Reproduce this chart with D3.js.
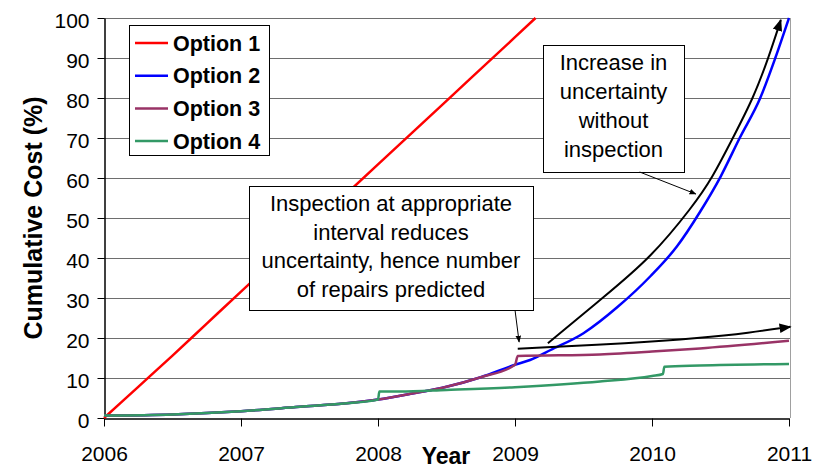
<!DOCTYPE html>
<meta charset="utf-8">
<style>
body { margin: 0; background: #fff; }
text { font-family: Arial, "Liberation Sans", sans-serif; fill: #000; }
.grid line { stroke: #6e6e6e; stroke-width: 1; }
.axis path, .axis line { stroke: #000; }
.axis text { font-size: 21px; }
</style>
<svg width="821" height="469"></svg>
<script src="https://d3js.org/d3.v7.min.js"></script>
<script>

// series values, as [year, cumulative cost %]
var seriesNames = ["Option 1", "Option 2", "Option 3", "Option 4"];
var seriesColors = ["#ff0000", "#0000ff", "#993366", "#339966"];

var option1 = [[2006, 0], [2006.25, 7.8], [2006.5, 15.6], [2006.75, 23.6], [2007, 31.6],
  [2007.5, 47.5], [2008, 63.4], [2008.5, 79.3], [2009, 95.2], [2009.15, 100]];

var sharedStart = [[2006, 0.6], [2006.5, 0.9], [2007, 1.7], [2007.43, 2.8], [2007.75, 3.6], [2008, 4.6]];

var option3Mid = [[2008.25, 6.1], [2008.5, 7.8], [2008.75, 10.2], [2009, 13.3]];

var option2 = sharedStart.concat(option3Mid, [[2009.11, 14.5], [2009.26, 17], [2009.5, 21.2],
  [2009.75, 27.8], [2009.99, 35.5], [2010.18, 42.8], [2010.35, 51.5], [2010.5, 60.3],
  [2010.64, 70], [2010.79, 80], [2010.9, 90], [2011, 100]]);

var option3 = sharedStart.concat(option3Mid, [[2009.02, 15.5], [2009.62, 15.9], [2010, 16.6],
  [2010.35, 17.4], [2011, 19.3]]);

var option4 = sharedStart.concat([[2008.01, 6.6], [2008.16, 6.6], [2008.5, 7.0], [2009, 7.7],
  [2009.62, 9.1], [2010, 10.5], [2010.08, 11.0], [2010.09, 12.8], [2010.35, 13.1], [2011, 13.5]]);

var allSeries = [option1, option2, option3, option4];

var yearTicks = [2006, 2007, 2008, 2009, 2010, 2011];
var costTicks = [0, 10, 20, 30, 40, 50, 60, 70, 80, 90, 100];

// annotation curves and pointers, in data units
var trendNoInspection = [[2009.24, 18.7], [2009.65, 30.3], [2009.99, 40], [2010.3, 53],
  [2010.44, 60], [2010.59, 70], [2010.74, 80], [2010.85, 90], [2010.94, 99.5]];
var trendInspection = [[2009.02, 17.3], [2009.86, 18.7], [2010.35, 20], [2010.71, 21.3], [2011.01, 22.8]];
var pointerA = [[2009.0, 27], [2009.03, 19]];
var pointerB = [[2009.91, 61.5], [2010.32, 56]];

var noteA = ["Inspection at appropriate", "interval reduces", "uncertainty, hence number", "of repairs predicted"];
var noteB = ["Increase in", "uncertainty", "without", "inspection"];

var svg = d3.select("svg");

var x = d3.scaleLinear().domain([2006, 2011]).range([104, 789]);
var y = d3.scaleLinear().domain([0, 100]).range([418, 18]);

// gridlines
svg.append("g")
    .attr("class", "grid")
  .selectAll("line")
  .data(costTicks.slice(1))
  .enter().append("line")
    .attr("x1", x(2006))
    .attr("x2", x(2011) + 1)
    .attr("y1", function(d) { return y(d) + 0.5; })
    .attr("y2", function(d) { return y(d) + 0.5; });

svg.append("line")
    .attr("x1", x(2011) + 1.5).attr("x2", x(2011) + 1.5)
    .attr("y1", y(100)).attr("y2", y(0))
    .style("stroke", "#a0a0a0");

// axes
svg.append("g")
    .attr("class", "axis")
    .attr("transform", "translate(" + (x(2006) + 0.5) + ",0)")
    .call(d3.axisLeft(y).tickValues(costTicks).tickSize(7).tickSizeOuter(0).tickPadding(8))
    .call(function(g) { g.selectAll("text").attr("dy", "0.47em"); });

svg.append("g")
    .attr("class", "axis")
    .attr("transform", "translate(0," + (y(0) + 0.5) + ")")
    .call(d3.axisBottom(x).tickValues(yearTicks).tickFormat(d3.format("d")).tickSize(8).tickSizeOuter(0).tickPadding(20));

svg.selectAll(".axis .domain").style("stroke-width", 1.5);

// axis titles
svg.append("text")
    .attr("x", 446).attr("y", 464)
    .attr("text-anchor", "middle")
    .style("font-size", "23px").style("font-weight", "bold")
    .text("Year");

svg.append("text")
    .attr("transform", "translate(42,218) rotate(-90)")
    .attr("text-anchor", "middle")
    .style("font-size", "25px").style("font-weight", "bold")
    .text("Cumulative Cost (%)");

// series
var line = d3.line()
    .x(function(d) { return x(d[0]); })
    .y(function(d) { return y(d[1]); });

var seriesLine = d3.line()
    .x(function(d) { return x(d[0]); })
    .y(function(d) { return y(d[1]); })
    .curve(d3.curveMonotoneX);

svg.append("g")
  .selectAll("path")
  .data(allSeries)
  .enter().append("path")
    .attr("d", seriesLine)
    .style("fill", "none")
    .style("stroke", function(d, i) { return seriesColors[i]; })
    .style("stroke-width", 2.5)
    .style("stroke-linejoin", "round");

// arrow markers
var defs = svg.append("defs");
defs.append("marker")
    .attr("id", "head")
    .attr("viewBox", "0 0 10 10")
    .attr("refX", 9).attr("refY", 5)
    .attr("markerWidth", 6).attr("markerHeight", 6)
    .attr("markerUnits", "strokeWidth")
    .attr("orient", "auto")
  .append("path")
    .attr("d", "M0,1L10,5L0,9z")
    .style("fill", "#000");
defs.append("marker")
    .attr("id", "smallhead")
    .attr("viewBox", "0 0 10 10")
    .attr("refX", 9).attr("refY", 5)
    .attr("markerWidth", 7).attr("markerHeight", 7)
    .attr("markerUnits", "strokeWidth")
    .attr("orient", "auto")
  .append("path")
    .attr("d", "M0,1L10,5L0,9z")
    .style("fill", "#000");

var smooth = d3.line()
    .x(function(d) { return x(d[0]); })
    .y(function(d) { return y(d[1]); })
    .curve(d3.curveBasis);

[trendNoInspection, trendInspection].forEach(function(pts) {
  svg.append("path")
      .attr("d", smooth(pts))
      .style("fill", "none")
      .style("stroke", "#000")
      .style("stroke-width", 2)
      .attr("marker-end", "url(#head)");
});

// annotation boxes
function noteBox(lines, left, top, w, h, lineGap) {
  svg.append("rect")
      .attr("x", left + 0.5).attr("y", top + 0.5)
      .attr("width", w).attr("height", h)
      .style("fill", "#fff").style("stroke", "#000");
  svg.append("g").selectAll("text")
    .data(lines)
    .enter().append("text")
      .attr("x", left + w / 2)
      .attr("y", function(d, i) { return top + 25 + i * lineGap; })
      .attr("text-anchor", "middle")
      .style("font-size", "22px")
      .text(function(d) { return d; });
}

noteBox(noteA, 249, 186, 284, 124, 28.5);
noteBox(noteB, 543, 45, 141, 127, 29);

[pointerA, pointerB].forEach(function(pts) {
  svg.append("path")
      .attr("d", line(pts))
      .style("fill", "none")
      .style("stroke", "#000")
      .style("stroke-width", 1)
      .attr("marker-end", "url(#smallhead)");
});

// legend
var legend = svg.append("g");
legend.append("rect")
    .attr("x", 129.5).attr("y", 25.5)
    .attr("width", 140).attr("height", 130)
    .style("fill", "#fff").style("stroke", "#000");

var entry = legend.selectAll(".entry")
  .data(seriesNames)
  .enter().append("g")
    .attr("transform", function(d, i) { return "translate(0," + (43 + i * 32.7) + ")"; });

entry.append("line")
    .attr("x1", 135).attr("x2", 168)
    .style("stroke", function(d, i) { return seriesColors[i]; })
    .style("stroke-width", 2.5);

entry.append("text")
    .attr("x", 173).attr("dy", "0.36em")
    .style("font-size", "21.5px").style("font-weight", "bold")
    .text(function(d) { return d; });

</script>
